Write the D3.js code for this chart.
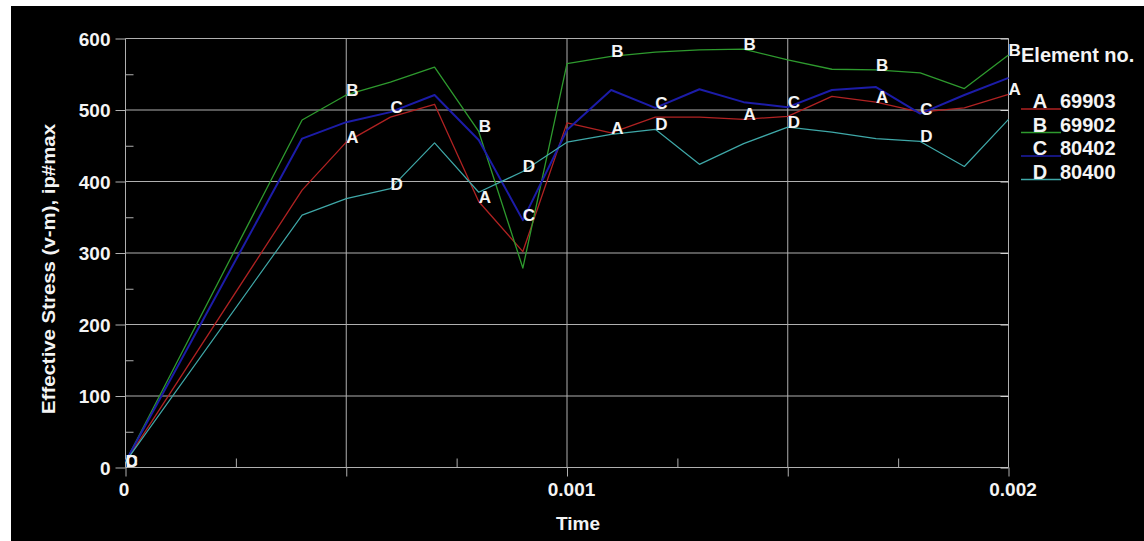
<!DOCTYPE html>
<html><head><meta charset="utf-8">
<script src="https://cdn.jsdelivr.net/npm/d3@7"></script>
<style>
body{margin:0;background:#fff;}
svg text{font-family:"Liberation Sans",Arial,sans-serif;font-weight:bold;fill:#f4f4f4;}
</style>
</head><body>
<svg id="c" width="1144" height="541"></svg>
<script>
// ---- data ----
const times = [0, 0.0004, 0.0005, 0.0006, 0.0007, 0.0008, 0.0009, 0.0010, 0.0011, 0.0012,
               0.0013, 0.0014, 0.0015, 0.0016, 0.0017, 0.0018, 0.0019, 0.0020];
const seriesA = [8, 388, 455, 490, 508, 372, 302, 482, 468, 490, 490, 487, 491, 519, 511, 497, 503, 522];
const seriesB = [8, 486, 521, 539, 560, 470, 279, 565, 575, 581, 584, 585, 570, 557, 556, 552, 530, 577];
const seriesC = [8, 460, 483, 497, 521, 458, 346, 472, 528, 503, 529, 511, 504, 528, 532, 495, 521, 545];
const seriesD = [8, 353, 376, 390, 454, 385, 414, 455, 466, 473, 424, 453, 476, 469, 460, 456, 421, 487];
const seriesLetters = ["A", "B", "C", "D"];
const elementNos = ["69903", "69902", "80402", "80400"];
const labelIdxAB = [2, 5, 8, 11, 14, 17];
const labelIdxCD = [0, 3, 6, 9, 12, 15];
const yTicks = [0, 100, 200, 300, 400, 500, 600];
const yMinor = [50, 150, 250, 350, 450, 550];
const xMajor = [0, 0.0005, 0.001, 0.0015, 0.002];
const xMinor = [0.00025, 0.00075, 0.00125, 0.00175];
const xLabels = {"0": "0", "0.001": "0.001", "0.002": "0.002"};

const colors = ["#b02222", "#2e9a2e", "#1c1ca8", "#3fa8a8"];
const widths = [1.3, 1.3, 2, 1.2];

const svg = d3.select("#c");
svg.append("rect").attr("x", 11).attr("y", 6).attr("width", 1133).attr("height", 535).attr("fill", "#000");

const x = d3.scaleLinear().domain([0, 0.002]).range([125.5, 1008.5]);
const y = d3.scaleLinear().domain([0, 600]).range([467.5, 38.5]);
const gridCol = "#b0b0b0";

// grid
const g = svg.append("g");
g.selectAll("line.hg").data(yTicks).join("line")
  .attr("x1", x(0)).attr("x2", x(0.002)).attr("y1", d => y(d)).attr("y2", d => y(d))
  .attr("stroke", gridCol).attr("stroke-width", 1);
g.selectAll("line.vg").data(xMajor).join("line")
  .attr("x1", d => x(d)).attr("x2", d => x(d)).attr("y1", y(0)).attr("y2", y(600))
  .attr("stroke", gridCol).attr("stroke-width", 1);

function styleAxis(sel) {
  sel.select(".domain").remove();
  sel.selectAll(".tick line").attr("stroke", gridCol).attr("stroke-width", 1);
}
// y axis major (outward) with labels
svg.append("g").attr("transform", `translate(${x(0)},0)`)
  .call(d3.axisLeft(y).tickValues(yTicks).tickSize(10).tickPadding(5).tickFormat(d3.format("d")))
  .call(styleAxis)
  .call(s => s.selectAll("text").attr("font-size", 19).attr("fill", "#f4f4f4").attr("dy", "0.36em"));
// y minor (inward)
svg.append("g").attr("transform", `translate(${x(0)},0)`)
  .call(d3.axisRight(y).tickValues(yMinor).tickSize(8).tickFormat(""))
  .call(styleAxis);
// right side inward ticks
svg.append("g").attr("transform", `translate(${x(0.002)},0)`)
  .call(d3.axisLeft(y).tickValues(yTicks).tickSize(8).tickFormat(""))
  .call(styleAxis)
  .call(s => s.selectAll(".tick line").attr("stroke", "#d4d4d4"));
// x major (down) with labels
svg.append("g").attr("transform", `translate(0,${y(0)})`)
  .call(d3.axisBottom(x).tickValues(xMajor).tickSize(9).tickPadding(6)
    .tickFormat(d => xLabels[String(+d.toFixed(4))] || ""))
  .call(styleAxis)
  .call(s => s.selectAll("text").attr("font-size", 19).attr("fill", "#f4f4f4")
    .attr("dx", d => d === 0 ? -2 : 4));
// x minor (up)
svg.append("g").attr("transform", `translate(0,${y(0)})`)
  .call(d3.axisTop(x).tickValues(xMinor).tickSize(9).tickFormat(""))
  .call(styleAxis);

// titles
svg.append("text").attr("transform", "translate(55,269) rotate(-90)")
  .attr("text-anchor", "middle").attr("font-size", 19)
  .attr("textLength", 290).attr("lengthAdjust", "spacingAndGlyphs")
  .text("Effective Stress (v-m), ip#max");
svg.append("text").attr("x", 578).attr("y", 530).attr("text-anchor", "middle")
  .attr("font-size", 19).text("Time");

// lines
const allSeries = [seriesA, seriesB, seriesC, seriesD];
const line = d3.line().x((d, i) => x(times[i])).y(d => y(d));
const lg = svg.append("g");
allSeries.forEach((s, k) => {
  lg.append("path").datum(s).attr("d", line).attr("fill", "none")
    .attr("stroke", colors[k]).attr("stroke-width", widths[k]).attr("stroke-linejoin", "round");
});
// letter markers
const lab = svg.append("g");
allSeries.forEach((s, k) => {
  const idx = k < 2 ? labelIdxAB : labelIdxCD;
  lab.selectAll(null).data(idx).join("text")
    .attr("x", i => x(times[i]) + (i === 0 ? 0 : 0))
    .attr("y", i => y(s[i]) + (i === 0 ? 5 : 1))
    .attr("font-size", 17).text(seriesLetters[k]);
});

// legend
svg.append("text").attr("x", 1021).attr("y", 62).attr("font-size", 20).text("Element no.");
const leg = svg.append("g");
seriesLetters.forEach((l, k) => {
  const by = 108 + k * 23.5;
  leg.append("line").attr("x1", 1021).attr("x2", 1061).attr("y1", by + 1).attr("y2", by + 1)
    .attr("stroke", colors[k]).attr("stroke-width", 1.5);
  leg.append("text").attr("x", 1040).attr("y", by).attr("text-anchor", "middle").attr("font-size", 20).text(l);
  leg.append("text").attr("x", 1060).attr("y", by).attr("font-size", 20).text(elementNos[k]);
});
</script>
</body></html>
